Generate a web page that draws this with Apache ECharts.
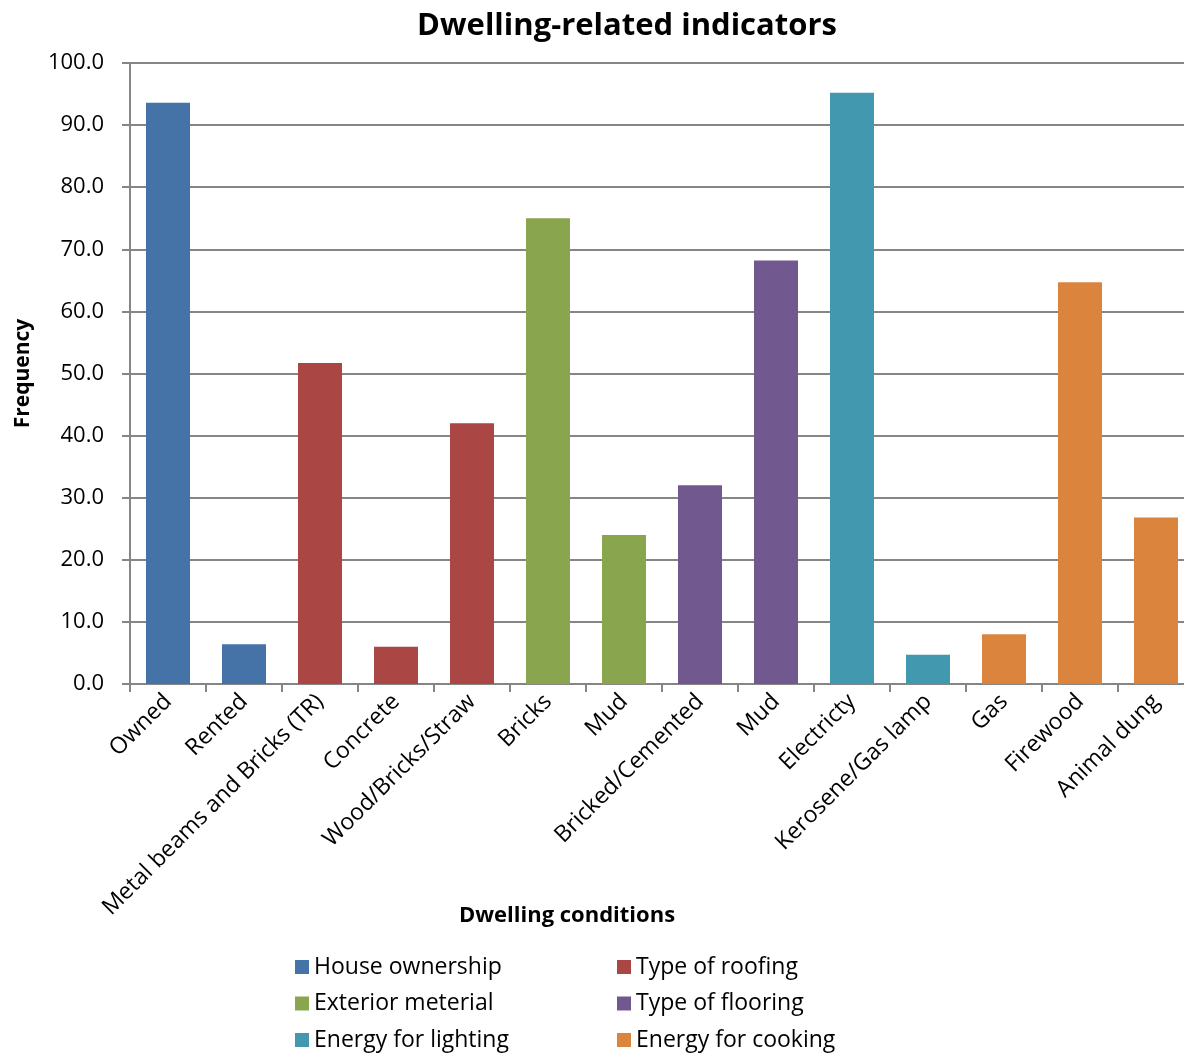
<!DOCTYPE html>
<html>
<head>
<meta charset="utf-8">
<script src="https://cdn.jsdelivr.net/npm/echarts@6/dist/echarts.min.js"></script>
<style>
  html, body { margin: 0; padding: 0; background: #fff; }
  #chart { width: 1184px; height: 1054px; }
</style>
</head>
<body>
<div id="chart"></div>
<script>
// categories along the x axis
var categories = ['Owned', 'Rented', 'Metal beams and Bricks (TR)', 'Concrete', 'Wood/Bricks/Straw',
  'Bricks', 'Mud', 'Bricked/Cemented', 'Mud', 'Electricty', 'Kerosene/Gas lamp', 'Gas', 'Firewood', 'Animal dung'];
// frequency of each category
var values = [93.6, 6.4, 51.7, 6.0, 42.0, 75.0, 24.0, 32.0, 68.2, 95.2, 4.7, 8.0, 64.7, 26.8];
// which group each category belongs to (index into groups)
var groupOf = [0, 0, 1, 1, 1, 2, 2, 3, 3, 4, 4, 5, 5, 5];
var groups = ['House ownership', 'Type of roofing', 'Exterior meterial', 'Type of flooring', 'Energy for lighting', 'Energy for cooking'];
var colors = ['#4572A7', '#AA4643', '#89A54E', '#71588F', '#4198AF', '#DB843D'];
var yTicks = [0, 10, 20, 30, 40, 50, 60, 70, 80, 90, 100];

var font = '"Open Sans", "Noto Sans", sans-serif';

var chart = echarts.init(document.getElementById('chart'));

var series = groups.map(function (g, gi) {
  return {
    name: g,
    type: 'bar',
    stack: 'all',
    barWidth: 44,
    itemStyle: { color: colors[gi] },
    data: values.map(function (v, i) { return groupOf[i] === gi ? v : null; })
  };
});

var legendBase = {
  orient: 'vertical', top: 955, height: 120, itemGap: 12.5, padding: 0,
  itemWidth: 14, itemHeight: 14, icon: 'rect', itemTextGap: 6,
  textStyle: { fontFamily: font, fontSize: 23, color: '#000', lineHeight: 24 }
};

var option = {
  animation: false,
  color: colors,
  title: [{
    text: 'Dwelling-related indicators',
    left: 622, top: 6, textAlign: 'center',
    textStyle: { fontFamily: font, fontSize: 31, fontWeight: 'bold', color: '#000' }
  }, {
    text: 'Dwelling conditions',
    left: 562, top: 900, textAlign: 'center',
    textStyle: { fontFamily: font, fontSize: 22, fontWeight: 'bold', color: '#000' }
  }],
  grid: { left: 130, width: 1064, top: 63, bottom: 370, containLabel: false, outerBoundsMode: 'none' },
  legend: [
    Object.assign({}, legendBase, { left: 295, data: [groups[0], groups[2], groups[4]] }),
    Object.assign({}, legendBase, { left: 617, data: [groups[1], groups[3], groups[5]] })
  ],
  xAxis: {
    type: 'category',
    data: categories,
    axisLine: { lineStyle: { color: '#868686', width: 2 } },
    axisTick: { show: true, length: 8, lineStyle: { color: '#868686', width: 2 } },
    axisLabel: {
      rotate: 45, interval: 0, margin: 14,
      fontFamily: font, fontSize: 23, color: '#000'
    }
  },
  yAxis: {
    type: 'value',
    min: yTicks[0], max: yTicks[yTicks.length - 1], interval: 10,
    name: 'Frequency',
    nameLocation: 'middle', nameGap: 96,
    nameTextStyle: { fontFamily: font, fontSize: 21, fontWeight: 'bold', color: '#000' },
    axisLine: { show: true, lineStyle: { color: '#868686', width: 2 } },
    axisTick: { show: true, length: 8, lineStyle: { color: '#868686', width: 2 } },
    splitLine: { lineStyle: { color: '#868686', width: 2 } },
    axisLabel: {
      margin: 26,
      fontFamily: font, fontSize: 22, color: '#000',
      formatter: function (v) { return v.toFixed(1); }
    }
  },
  series: series
};

chart.setOption(option);
</script>
</body>
</html>
